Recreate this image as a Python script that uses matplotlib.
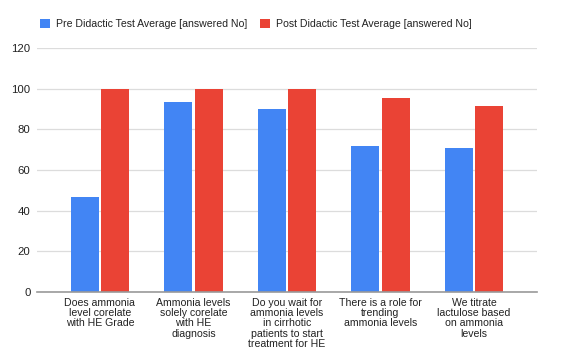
import matplotlib
matplotlib.use("Agg")
import matplotlib.pyplot as plt
import numpy as np

CATEGORIES = [
    "Does ammonia\nlevel corelate\nwith HE Grade",
    "Ammonia levels\nsolely corelate\nwith HE\ndiagnosis",
    "Do you wait for\nammonia levels\nin cirrhotic\npatients to start\ntreatment for HE",
    "There is a role for\ntrending\nammonia levels",
    "We titrate\nlactulose based\non ammonia\nlevels",
]
PRE = [46.7, 93.3, 90.0, 72.0, 71.0]
POST = [100.0, 100.0, 100.0, 95.5, 91.7]
SERIES = ["Pre Didactic Test Average [answered No]",
          "Post Didactic Test Average [answered No]"]
BLUE = "#4285F4"
RED = "#EA4335"

plt.rcParams["font.family"] = ["Liberation Sans", "DejaVu Sans"]

fig = plt.figure(figsize=(5.61, 3.63), dpi=100)
ax = fig.add_axes([0.0654, 0.1956, 0.8923, 0.6722])

x = np.arange(len(CATEGORIES))
w = 0.30
gap = 0.0125
b1 = ax.bar(x - w / 2 - gap, PRE, width=w, color=BLUE, label=SERIES[0], zorder=3)
b2 = ax.bar(x + w / 2 + gap, POST, width=w, color=RED, label=SERIES[1], zorder=3)

ax.set_xlim(-0.676, len(CATEGORIES) - 1 + 0.676)
ax.set_ylim(0, 120)
ax.set_yticks(range(0, 121, 20))
ax.yaxis.grid(True, color="#dcdcdc", linewidth=0.9, zorder=0)
ax.set_axisbelow(True)
for sp in ("top", "right", "left"):
    ax.spines[sp].set_visible(False)
ax.spines["bottom"].set_color("#999999")
ax.spines["bottom"].set_linewidth(1.2)
ax.spines["bottom"].set_zorder(4)
ax.tick_params(axis="y", length=0, labelsize=8.2, labelcolor="#222222", pad=4.5)
ax.tick_params(axis="x", length=0, pad=4)
ax.set_xticks(x)
ax.set_xticklabels(CATEGORIES, fontsize=7.6, color="#222222", linespacing=1.05,
                   va="top", ha="center")

fig.legend(handles=[b1, b2], labels=SERIES, loc="upper left",
           bbox_to_anchor=(0.054, 0.975), ncol=2, frameon=False,
           fontsize=7.6, handlelength=0.95, handleheight=0.95,
           columnspacing=1.2, handletextpad=0.6, labelcolor="#222222")

fig.savefig("out.png", dpi=100)
